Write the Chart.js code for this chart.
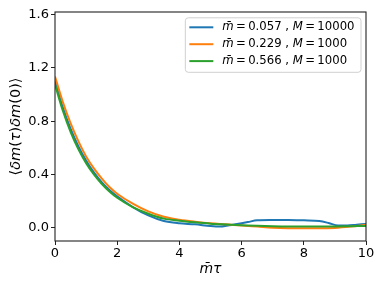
<!DOCTYPE html>
<html><head><meta charset="utf-8">
<script src="https://cdn.jsdelivr.net/npm/chart.js@4/dist/chart.umd.min.js"></script>
<style>html,body{margin:0;padding:0;background:#fff}#wrap{width:384px;height:288px}</style>
</head><body><div id="wrap"><canvas id="c" width="384" height="288"></canvas></div>
<script>
// ---- data ----
const seriesLabels = ['m\u0304\u2009=\u20090.057 , M\u2009=\u200910000', 'm\u0304\u2009=\u20090.229 , M\u2009=\u20091000', 'm\u0304\u2009=\u20090.566 , M\u2009=\u20091000'];
const seriesColors = ['#1f77b4', '#ff7f0e', '#2ca02c'];

const tauBlue  = [0,0.25,0.5,0.75,1,1.25,1.5,1.75,2,2.5,3,3.5,4,4.5,5,5.3,5.6,5.9,6.2,6.5,7,7.5,8,8.5,8.8,9.1,9.4,9.7,10];
const corrBlue = [1.10,0.905,0.745,0.613,0.505,0.415,0.342,0.283,0.235,0.155,0.092,0.05,0.033,0.025,0.012,0.008,0.018,0.03,0.042,0.055,0.057,0.058,0.055,0.05,0.035,0.016,0.016,0.022,0.028];

const tauOrange  = [0,0.25,0.5,0.75,1,1.25,1.5,1.75,2,2.5,3,3.5,4,4.5,5,5.5,6,6.5,7,7.5,8,8.5,9,9.5,10];
const corrOrange = [1.135,0.945,0.785,0.65,0.535,0.445,0.37,0.305,0.255,0.18,0.122,0.082,0.06,0.045,0.033,0.025,0.016,0.008,0.0,-0.004,-0.005,-0.005,-0.002,0.008,0.022];

const tauGreen  = [0,0.25,0.5,0.75,1,1.25,1.5,1.75,2,2.5,3,3.5,4,4.5,5,5.5,6,6.5,7,7.5,8,8.5,9,9.5,10];
const corrGreen = [1.075,0.88,0.72,0.59,0.485,0.40,0.33,0.272,0.225,0.155,0.105,0.068,0.052,0.04,0.03,0.024,0.019,0.014,0.01,0.008,0.008,0.008,0.009,0.011,0.013];

const xTicks = [0,2,4,6,8,10];
const yTicks = [0.0,0.4,0.8,1.2,1.6];
const xTitle = 'm\u0304\u03c4';
const yTitle = '\u27e8\u03b4m(\u03c4)\u03b4m(0)\u27e9';

// ---- helpers ----
const FONT = '"DejaVu Sans"';
const ITALIC = 'mM\u03b4\u03c4';
function runs(str){
  const out=[];
  for (const ch of str){
    if (ch === '\u0304' && out.length){ out[out.length-1][0]+=ch; continue; }
    const it = ITALIC.includes(ch);
    if (out.length && out[out.length-1][1]===it) out[out.length-1][0]+=ch;
    else out.push([ch,it]);
  }
  return out;
}
function richWidth(ctx, parts, size){
  let w=0;
  for (const [t,it] of parts){ ctx.font=(it?'italic ':'')+size+'px '+FONT; w+=ctx.measureText(t).width; }
  return w;
}
function drawRich(ctx, str, x, y, size, align){
  const parts=runs(str);
  const w=richWidth(ctx,parts,size);
  let cx = align==='center' ? x-w/2 : x;
  ctx.textBaseline='middle'; ctx.textAlign='left';
  for (const [t,it] of parts){
    ctx.font=(it?'italic ':'')+size+'px '+FONT;
    ctx.fillText(t,cx,y);
    cx+=ctx.measureText(t).width;
  }
  return w;
}

const mplPlugin = {
  id:'mpl',
  afterDatasetsDraw(chart){
    const ctx=chart.ctx, a=chart.chartArea;
    ctx.save();
    // frame
    ctx.strokeStyle='#222'; ctx.lineWidth=1.1;
    ctx.strokeRect(a.left, a.top, a.right-a.left, a.bottom-a.top);
    // axis titles
    ctx.fillStyle='#000';
    drawRich(ctx, xTitle, (a.left+a.right)/2, 269, 14, 'center');
    ctx.translate(16, (a.top+a.bottom)/2);
    ctx.rotate(-Math.PI/2);
    drawRich(ctx, yTitle, 0, 0, 14.5, 'center');
    ctx.restore();
    // legend
    ctx.save();
    const fs=11.7, ds=chart.data.datasets;
    let maxW=0;
    ds.forEach(d=>{ maxW=Math.max(maxW, richWidth(ctx, runs(d.label), fs)); });
    const bw = 37.5 + maxW + 6, bh = 54.5;
    const bx = a.right - 5.5 - bw, by = a.top + 5.3;
    ctx.beginPath();
    ctx.roundRect(bx+0.5, by+0.5, bw, bh, 3);
    ctx.fillStyle='rgba(255,255,255,0.8)'; ctx.fill();
    ctx.strokeStyle='#d0d0d0'; ctx.lineWidth=1; ctx.stroke();
    ds.forEach((d,i)=>{
      const yy = by + 10 + i*16.9;
      ctx.strokeStyle=d.borderColor; ctx.lineWidth=2;
      ctx.beginPath(); ctx.moveTo(bx+4.5, yy); ctx.lineTo(bx+28.5, yy); ctx.stroke();
      ctx.fillStyle='#000';
      drawRich(ctx, d.label, bx+37.5, yy, fs, 'left');
    });
    ctx.restore();
  }
};

function mk(tau, vals){ return tau.map((t,i)=>({x:t, y:vals[i]})); }

const datasets = [
  {label:seriesLabels[0], data:mk(tauBlue,corrBlue), borderColor:seriesColors[0], order:3},
  {label:seriesLabels[1], data:mk(tauOrange,corrOrange), borderColor:seriesColors[1], order:2},
  {label:seriesLabels[2], data:mk(tauGreen,corrGreen), borderColor:seriesColors[2], order:1},
].map(d=>Object.assign(d,{borderWidth:2, pointRadius:0, fill:false, cubicInterpolationMode:'monotone', backgroundColor:d.borderColor}));

new Chart(document.getElementById('c'), {
  type:'line',
  data:{datasets},
  options:{
    responsive:false, animation:false, devicePixelRatio:1,
    layout:{padding:{left:0, right:18, top:12, bottom:0}},
    plugins:{legend:{display:false}, tooltip:{enabled:false}},
    scales:{
      x:{type:'linear', min:0, max:10,
        afterBuildTicks:s=>{ s.ticks = xTicks.map(v=>({value:v})); },
        afterFit:s=>{ s.height=47; },
        ticks:{font:{family:'DejaVu Sans', size:13}, color:'#000', padding:1, maxRotation:0, callback:v=>String(v)},
        grid:{drawOnChartArea:false, drawTicks:true, tickLength:4, color:'#222'},
        border:{display:false}},
      y:{type:'linear', min:-0.1, max:1.62,
        afterBuildTicks:s=>{ s.ticks = yTicks.map(v=>({value:v})); },
        afterFit:s=>{ s.width=55; },
        ticks:{font:{family:'DejaVu Sans', size:13}, color:'#000', padding:2, callback:v=>Number(v).toFixed(1)},
        grid:{drawOnChartArea:false, drawTicks:true, tickLength:4, color:'#222'},
        border:{display:false}}
    }
  },
  plugins:[mplPlugin]
});
</script></body></html>
